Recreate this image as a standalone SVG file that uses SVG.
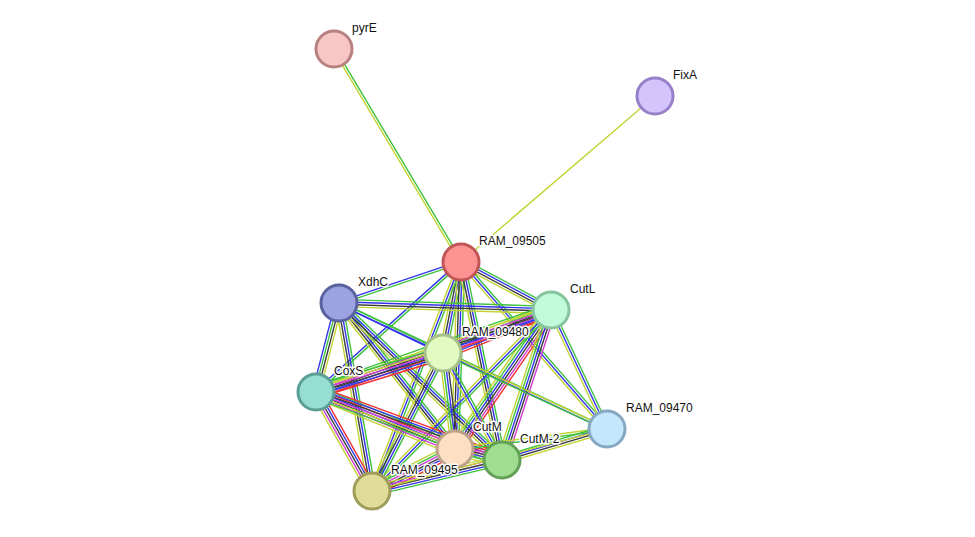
<svg xmlns="http://www.w3.org/2000/svg" width="975" height="537" viewBox="0 0 975 537">
<style>
.e path{fill:none;stroke-width:1.4}
.g{stroke:#3ec23e}.b{stroke:#3434f0}.k{stroke:#3c3c3c}.y{stroke:#c2d334}.r{stroke:#f03030}.m{stroke:#d23cd2}
.n circle{stroke-width:3}
.n text{font-family:"Liberation Sans",Arial,sans-serif;font-size:12px;fill:#111;stroke:#fff;stroke-width:3px;paint-order:stroke;stroke-linejoin:round}
</style>
<rect width="975" height="537" fill="#fff"/>
<g id="edges" class="e">
<g transform="translate(334 49) rotate(59.19)"><path class="g" d="M0-1.2H248"/><path class="y" d="M0 1.2H248"/></g>
<g transform="translate(655 96) rotate(139.45)"><path class="y" d="M0 0H255.3"/></g>
<g transform="translate(461 262) rotate(161.43)"><path class="g" d="M0-1.2H128.7"/><path class="b" d="M0 1.2H128.7"/></g>
<g transform="translate(461 262) rotate(28.07)"><path class="g" d="M0-3.6H102"/><path class="b" d="M0-1.2H102"/><path class="k" d="M0 1.2H102"/><path class="y" d="M0 3.6H102"/></g>
<g transform="translate(461 262) rotate(101.19)"><path class="g" d="M0-3.6H92.8"/><path class="b" d="M0-1.2H92.8"/><path class="k" d="M0 1.2H92.8"/><path class="y" d="M0 3.6H92.8"/></g>
<g transform="translate(461 262) rotate(138.12)"><path class="g" d="M0-1.2H194.7"/><path class="b" d="M0 1.2H194.7"/></g>
<g transform="translate(461 262) rotate(91.84)"><path class="g" d="M0-3.6H187.1"/><path class="b" d="M0-1.2H187.1"/><path class="k" d="M0 1.2H187.1"/><path class="y" d="M0 3.6H187.1"/></g>
<g transform="translate(461 262) rotate(78.30)"><path class="g" d="M0-3.6H202.2"/><path class="b" d="M0-1.2H202.2"/><path class="k" d="M0 1.2H202.2"/><path class="y" d="M0 3.6H202.2"/></g>
<g transform="translate(461 262) rotate(111.24)"><path class="g" d="M0-2.4H245.7"/><path class="b" d="M0 0H245.7"/><path class="y" d="M0 2.4H245.7"/></g>
<g transform="translate(461 262) rotate(48.84)"><path class="g" d="M0-2.4H221.8"/><path class="b" d="M0 0H221.8"/><path class="y" d="M0 2.4H221.8"/></g>
<g transform="translate(339 303) rotate(1.89)"><path class="g" d="M0-3.6H212.1"/><path class="b" d="M0-1.2H212.1"/><path class="k" d="M0 1.2H212.1"/><path class="y" d="M0 3.6H212.1"/></g>
<g transform="translate(339 303) rotate(25.68)"><path class="g" d="M0-1.2H115.4"/><path class="b" d="M0 1.2H115.4"/></g>
<g transform="translate(339 303) rotate(104.49)"><path class="y" d="M0-3.6H91.9"/><path class="k" d="M0-1.2H91.9"/><path class="g" d="M0 1.2H91.9"/><path class="b" d="M0 3.6H91.9"/></g>
<g transform="translate(339 303) rotate(51.53)"><path class="g" d="M0-3.6H186.5"/><path class="b" d="M0-1.2H186.5"/><path class="k" d="M0 1.2H186.5"/><path class="y" d="M0 3.6H186.5"/></g>
<g transform="translate(339 303) rotate(43.92)"><path class="g" d="M0-3.6H226.3"/><path class="b" d="M0-1.2H226.3"/><path class="k" d="M0 1.2H226.3"/><path class="y" d="M0 3.6H226.3"/></g>
<g transform="translate(339 303) rotate(80.04)"><path class="g" d="M0-3.6H190.9"/><path class="b" d="M0-1.2H190.9"/><path class="k" d="M0 1.2H190.9"/><path class="y" d="M0 3.6H190.9"/></g>
<g transform="translate(339 303) rotate(25.18)"><path class="g" d="M0-1.2H296.1"/><path class="b" d="M0 1.2H296.1"/></g>
<g transform="translate(551 310) rotate(158.30)"><path class="r" d="M0-6H116.2"/><path class="b" d="M0-3.6H116.2"/><path class="m" d="M0-1.2H116.2"/><path class="k" d="M0 1.2H116.2"/><path class="g" d="M0 3.6H116.2"/><path class="y" d="M0 6H116.2"/></g>
<g transform="translate(551 310) rotate(160.77)"><path class="r" d="M0-6H248.9"/><path class="b" d="M0-3.6H248.9"/><path class="k" d="M0-1.2H248.9"/><path class="m" d="M0 1.2H248.9"/><path class="y" d="M0 3.6H248.9"/><path class="g" d="M0 6H248.9"/></g>
<g transform="translate(551 310) rotate(124.63)"><path class="r" d="M0-6H168.9"/><path class="m" d="M0-3.6H168.9"/><path class="k" d="M0-1.2H168.9"/><path class="b" d="M0 1.2H168.9"/><path class="g" d="M0 3.6H168.9"/><path class="y" d="M0 6H168.9"/></g>
<g transform="translate(551 310) rotate(108.09)"><path class="m" d="M0-4.8H157.8"/><path class="k" d="M0-2.4H157.8"/><path class="b" d="M0 0H157.8"/><path class="g" d="M0 2.4H157.8"/><path class="y" d="M0 4.8H157.8"/></g>
<g transform="translate(551 310) rotate(134.69)"><path class="g" d="M0-2.4H254.6"/><path class="b" d="M0 0H254.6"/><path class="y" d="M0 2.4H254.6"/></g>
<g transform="translate(551 310) rotate(64.80)"><path class="g" d="M0-2.4H131.5"/><path class="b" d="M0 0H131.5"/><path class="y" d="M0 2.4H131.5"/></g>
<g transform="translate(443 353) rotate(162.93)"><path class="r" d="M0-6H132.9"/><path class="b" d="M0-3.6H132.9"/><path class="k" d="M0-1.2H132.9"/><path class="m" d="M0 1.2H132.9"/><path class="y" d="M0 3.6H132.9"/><path class="g" d="M0 6H132.9"/></g>
<g transform="translate(443 353) rotate(82.87)"><path class="k" d="M0-3.6H96.7"/><path class="b" d="M0-1.2H96.7"/><path class="g" d="M0 1.2H96.7"/><path class="y" d="M0 3.6H96.7"/></g>
<g transform="translate(443 353) rotate(61.13)"><path class="g" d="M0-2.4H122.2"/><path class="b" d="M0 0H122.2"/><path class="y" d="M0 2.4H122.2"/></g>
<g transform="translate(443 353) rotate(117.22)"><path class="g" d="M0-3.6H155.2"/><path class="b" d="M0-1.2H155.2"/><path class="k" d="M0 1.2H155.2"/><path class="y" d="M0 3.6H155.2"/></g>
<g transform="translate(443 353) rotate(24.86)"><path class="y" d="M0-1.2H180.8"/><path class="g" d="M0 1.2H180.8"/></g>
<g transform="translate(316 392) rotate(22.30)"><path class="g" d="M0-6H150.2"/><path class="r" d="M0-3.6H150.2"/><path class="b" d="M0-1.2H150.2"/><path class="k" d="M0 1.2H150.2"/><path class="m" d="M0 3.6H150.2"/><path class="y" d="M0 6H150.2"/></g>
<g transform="translate(316 392) rotate(20.08)"><path class="r" d="M0-6H198"/><path class="b" d="M0-3.6H198"/><path class="k" d="M0-1.2H198"/><path class="m" d="M0 1.2H198"/><path class="y" d="M0 3.6H198"/><path class="g" d="M0 6H198"/></g>
<g transform="translate(316 392) rotate(60.50)"><path class="r" d="M0-4.8H113.7"/><path class="b" d="M0-2.4H113.7"/><path class="k" d="M0 0H113.7"/><path class="m" d="M0 2.4H113.7"/><path class="y" d="M0 4.8H113.7"/></g>
<g transform="translate(455 449) rotate(13.17)"><path class="r" d="M0-6H48.3"/><path class="m" d="M0-3.6H48.3"/><path class="k" d="M0-1.2H48.3"/><path class="b" d="M0 1.2H48.3"/><path class="g" d="M0 3.6H48.3"/><path class="y" d="M0 6H48.3"/></g>
<g transform="translate(455 449) rotate(153.16)"><path class="r" d="M0-6H93"/><path class="b" d="M0-3.6H93"/><path class="k" d="M0-1.2H93"/><path class="m" d="M0 1.2H93"/><path class="g" d="M0 3.6H93"/><path class="y" d="M0 6H93"/></g>
<g transform="translate(455 449) rotate(-7.50)"><path class="y" d="M0-1.2H153.3"/><path class="g" d="M0 1.2H153.3"/></g>
<g transform="translate(502 460) rotate(166.59)"><path class="g" d="M0-4.8H133.6"/><path class="b" d="M0-2.4H133.6"/><path class="k" d="M0 0H133.6"/><path class="m" d="M0 2.4H133.6"/><path class="y" d="M0 4.8H133.6"/></g>
<g transform="translate(502 460) rotate(-16.45)"><path class="g" d="M0-3.6H109.5"/><path class="b" d="M0-1.2H109.5"/><path class="k" d="M0 1.2H109.5"/><path class="y" d="M0 3.6H109.5"/></g>
<g transform="translate(372 491) rotate(-14.78)"><path class="y" d="M0 0H243"/></g>
</g>
<g id="pyrE" class="n"><circle cx="334" cy="49" r="18" fill="#f9c6c6" stroke="#b88080"/><text x="352" y="32">pyrE</text></g>
<g id="FixA" class="n"><circle cx="655" cy="96" r="18" fill="#d4c4fc" stroke="#9680c8"/><text x="673" y="79">FixA</text></g>
<g id="RAM_09505" class="n"><circle cx="461" cy="262" r="18" fill="#fd9292" stroke="#c05656"/><text x="479" y="245">RAM_09505</text></g>
<g id="XdhC" class="n"><circle cx="339" cy="303" r="18" fill="#9ba4e0" stroke="#5a63a0"/><text x="358" y="286">XdhC</text></g>
<g id="CutL" class="n"><circle cx="551" cy="310" r="18" fill="#c1fad8" stroke="#86c4a0"/><text x="570" y="293">CutL</text></g>
<g id="RAM_09480" class="n"><circle cx="443" cy="353" r="18" fill="#e1fbc1" stroke="#a6c08a"/><text x="462" y="336">RAM_09480</text></g>
<g id="CoxS" class="n"><circle cx="316" cy="392" r="18" fill="#96ddd2" stroke="#5a9e95"/><text x="334" y="375">CoxS</text></g>
<g id="RAM_09470" class="n"><circle cx="607" cy="429" r="18" fill="#c5e7fc" stroke="#85a8c0"/><text x="626" y="412">RAM_09470</text></g>
<g id="CutM" class="n"><circle cx="455" cy="449" r="18" fill="#fde0c4" stroke="#bca28a"/><text x="473" y="431">CutM</text></g>
<g id="CutM-2" class="n"><circle cx="502" cy="460" r="18" fill="#9fdd90" stroke="#62a055"/><text x="520" y="443">CutM-2</text></g>
<g id="RAM_09495" class="n"><circle cx="372" cy="491" r="18" fill="#dfdd99" stroke="#a09d5a"/><text x="391" y="474">RAM_09495</text></g>
</svg>
